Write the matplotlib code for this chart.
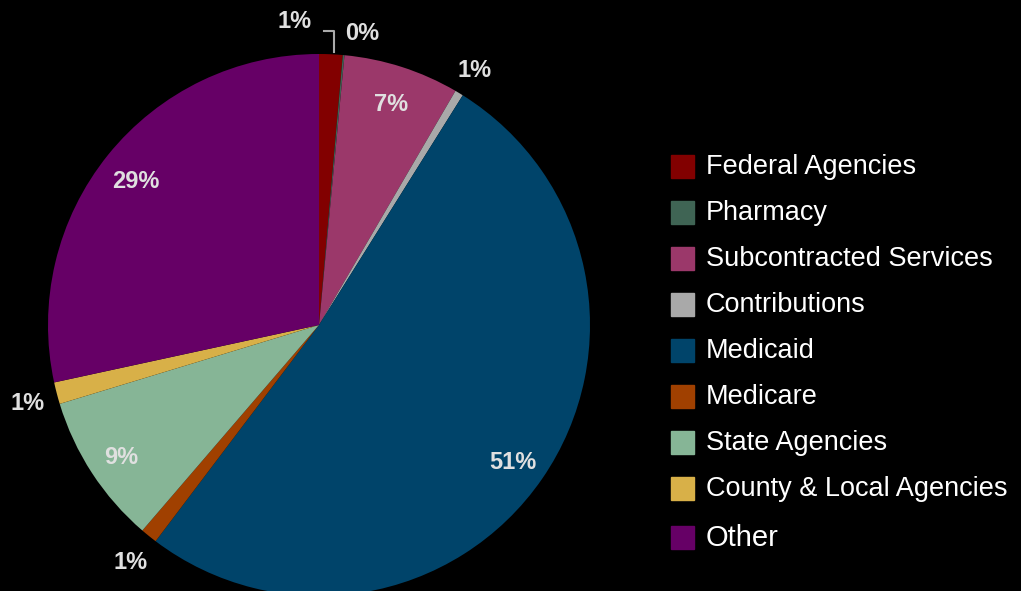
import numpy as np
import matplotlib.pyplot as plt
from matplotlib.patches import Rectangle

categories = ["Federal Agencies", "Pharmacy", "Subcontracted Services", "Contributions",
              "Medicaid", "Medicare", "State Agencies", "County & Local Agencies", "Other"]
shares = [1.4, 0.1, 6.9, 0.5, 51.4, 1.0, 9.0, 1.3, 28.4]
pct_labels = ["1%", "0%", "7%", "1%", "51%", "1%", "9%", "1%", "29%"]
colors = ["#820000", "#3f6454", "#9b386a", "#a9a9a9", "#00446a",
          "#a04000", "#86b596", "#d8b048", "#660066"]

W, H = 1021, 591
fig = plt.figure(figsize=(W / 100, H / 100), dpi=100, facecolor="black")
ax = fig.add_axes([0, 0, 1, 1])
ax.set_facecolor("black")

cx, cy, R = 319, H - 325, 271
wedges, _ = ax.pie(shares, colors=colors, startangle=90, counterclock=False,
                   center=(cx, cy), radius=R, frame=True,
                   wedgeprops=dict(linewidth=0))
ax.set_xlim(0, W)
ax.set_ylim(0, H)
ax.axis("off")

lab_kw = dict(color="#e0e0e0", fontsize=17, fontweight="bold",
              family="Liberation Sans", ha="center", va="center")
for i, w in enumerate(wedges):
    mid = np.deg2rad((w.theta1 + w.theta2) / 2)
    if i == 0:
        # leader line for Federal Agencies
        x0 = cx + R * np.cos(mid)
        y0 = cy + R * np.sin(mid)
        ax.plot([x0 + 3, x0 + 3, x0 - 7], [y0 + 2, y0 + 23, y0 + 23],
                color="#aaaaaa", lw=1.5)
        ax.text(x0 - 36, y0 + 33, pct_labels[i], **lab_kw)
    elif i == 1:
        ax.text(cx + 43, cy + R + 20, pct_labels[i], **lab_kw)
    elif shares[i] >= 5:
        r = 0.87 * R
        ax.text(cx + r * np.cos(mid), cy + r * np.sin(mid) - 4, pct_labels[i], **lab_kw)
    else:
        r = 1.11 * R
        ax.text(cx + r * np.cos(mid), cy + r * np.sin(mid) - 3, pct_labels[i], **lab_kw)

# legend
for i, (cat, col) in enumerate(zip(categories, colors)):
    y = H - 167 - 46 * i - (3 if i == 8 else 0)
    ax.add_patch(Rectangle((671, y - 11), 23, 23, color=col))
    ax.text(706, y, cat, color="white", fontsize=21 if i == 8 else 19.5,
            family="Liberation Sans", ha="left", va="center")

fig.savefig("out.png", dpi=100, facecolor="black")
